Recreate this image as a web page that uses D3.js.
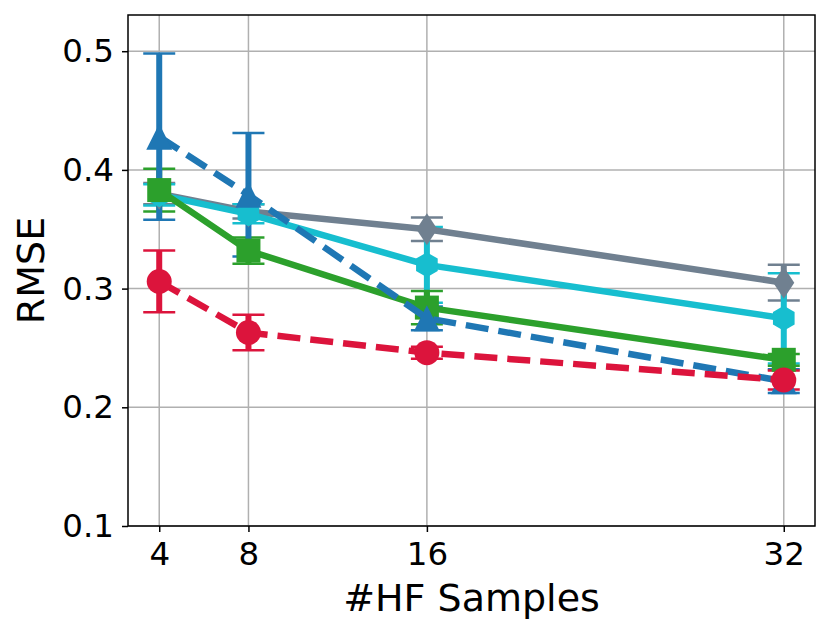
<!DOCTYPE html>
<html>
<head>
<meta charset="utf-8">
<script src="https://cdn.jsdelivr.net/npm/d3@7"></script>
<style>
  body { margin: 0; background: #fff; }
  text { font-family: "DejaVu Sans", sans-serif; fill: #000; }
</style>
</head>
<body>
<svg id="chart" width="830" height="634"></svg>
<script>
// data
const hfSamples = [4, 8, 16, 32];
const yTicks = [0.1, 0.2, 0.3, 0.4, 0.5];

const grayMean  = [0.380, 0.365, 0.350, 0.305];
const grayErr   = [0.009, 0.006, 0.010, 0.015];
const cyanMean  = [0.379, 0.363, 0.320, 0.275];
const cyanErr   = [0.009, 0.008, 0.032, 0.038];
const greenMean = [0.383, 0.332, 0.284, 0.240];
const greenErr  = [0.018, 0.011, 0.014, 0.005];
const blueMean  = [0.428, 0.379, 0.275, 0.222];
const blueErr   = [0.070, 0.052, 0.010, 0.010];
const redMean   = [0.306, 0.263, 0.246, 0.223];
const redErr    = [0.026, 0.015, 0.005, 0.008];

// drawing order matches the reference (later ones on top)
const series = [
  { mean: grayMean,  err: grayErr,  color: "#708090", marker: "thinDiamond", dashed: false },
  { mean: cyanMean,  err: cyanErr,  color: "#17becf", marker: "hexagon",     dashed: false },
  { mean: greenMean, err: greenErr, color: "#2ca02c", marker: "square",      dashed: false },
  { mean: blueMean,  err: blueErr,  color: "#1f77b4", marker: "triangle",    dashed: true },
  { mean: redMean,   err: redErr,   color: "#dc143c", marker: "circle",      dashed: true }
];

const plotL = 128, plotT = 15, plotR = 815, plotB = 526;

const x = d3.scaleLinear().domain([2.6, 33.4]).range([plotL, plotR]);
const y = d3.scaleLinear().domain([0.1, 0.5305]).range([plotB, plotT]);

const svg = d3.select("#chart");

// grid
svg.append("g").selectAll("line")
  .data(hfSamples).join("line")
  .attr("x1", d => x(d)).attr("x2", d => x(d))
  .attr("y1", plotT).attr("y2", plotB)
  .attr("stroke", "#b0b0b0").attr("stroke-width", 1.5);
svg.append("g").selectAll("line")
  .data(yTicks).join("line")
  .attr("x1", plotL).attr("x2", plotR)
  .attr("y1", d => y(d)).attr("y2", d => y(d))
  .attr("stroke", "#b0b0b0").attr("stroke-width", 1.5);

// marker shapes
function markerPath(kind) {
  const p = d3.path();
  if (kind === "circle") {
    p.arc(0, 0, 12.5, 0, 2 * Math.PI);
  } else if (kind === "square") {
    p.rect(-12, -12, 24, 24);
  } else if (kind === "triangle") {
    p.moveTo(0, -13); p.lineTo(13, 13); p.lineTo(-13, 13);
  } else if (kind === "hexagon") {
    for (let k = 0; k < 6; k++) {
      const a = -Math.PI / 2 + k * Math.PI / 3;
      const px = 12.5 * Math.cos(a), py = 12.5 * Math.sin(a);
      if (k === 0) p.moveTo(px, py); else p.lineTo(px, py);
    }
  } else if (kind === "thinDiamond") {
    p.moveTo(0, -16); p.lineTo(10.5, 0); p.lineTo(0, 16); p.lineTo(-10.5, 0);
  }
  p.closePath();
  return p.toString();
}

// error bars (all below the data lines, like matplotlib)
const errG = svg.append("g");
series.forEach(s => {
  const pts = hfSamples.map((h, i) => ({ h: h, m: s.mean[i], e: s.err[i] }));
  const g = errG.append("g").attr("stroke", s.color);
  g.selectAll(".bar").data(pts).join("line").attr("class", "bar")
    .attr("x1", d => x(d.h)).attr("x2", d => x(d.h))
    .attr("y1", d => y(d.m - d.e)).attr("y2", d => y(d.m + d.e))
    .attr("stroke-width", 6);
  g.selectAll(".capTop").data(pts).join("line").attr("class", "capTop")
    .attr("x1", d => x(d.h) - 16).attr("x2", d => x(d.h) + 16)
    .attr("y1", d => y(d.m + d.e)).attr("y2", d => y(d.m + d.e))
    .attr("stroke-width", 2.5);
  g.selectAll(".capBot").data(pts).join("line").attr("class", "capBot")
    .attr("x1", d => x(d.h) - 16).attr("x2", d => x(d.h) + 16)
    .attr("y1", d => y(d.m - d.e)).attr("y2", d => y(d.m - d.e))
    .attr("stroke-width", 2.5);
});

// lines + markers
const line = d3.line().x(d => x(d.h)).y(d => y(d.m));
series.forEach(s => {
  const pts = hfSamples.map((h, i) => ({ h: h, m: s.mean[i] }));
  const g = svg.append("g");
  g.append("path")
    .datum(pts)
    .attr("d", line)
    .attr("fill", "none")
    .attr("stroke", s.color)
    .attr("stroke-width", 6.5)
    .attr("stroke-linejoin", "round")
    .attr("stroke-dasharray", s.dashed ? "23,10" : null);
  g.selectAll(".mk").data(pts).join("path").attr("class", "mk")
    .attr("d", markerPath(s.marker))
    .attr("transform", d => `translate(${x(d.h)},${y(d.m)})`)
    .attr("fill", s.color);
});

// axes
const xAxis = d3.axisBottom(x).tickValues(hfSamples).tickSize(6).tickPadding(10).tickFormat(d3.format("d"));
const yAxis = d3.axisLeft(y).tickValues(yTicks).tickSize(6).tickPadding(8).tickFormat(d3.format(".1f"));

const gx = svg.append("g").attr("transform", `translate(0,${plotB})`).call(xAxis);
const gy = svg.append("g").attr("transform", `translate(${plotL},0)`).call(yAxis);
[gx, gy].forEach(g => {
  g.select(".domain").remove();
  g.selectAll(".tick line").attr("stroke", "#000").attr("stroke-width", 1.5);
  g.selectAll(".tick text").style("font-size", "32.5px").attr("fill", "#000")
    .style("font-family", "'DejaVu Sans', sans-serif");
});

// frame
svg.append("rect")
  .attr("x", plotL).attr("y", plotT)
  .attr("width", plotR - plotL).attr("height", plotB - plotT)
  .attr("fill", "none").attr("stroke", "#000").attr("stroke-width", 1.5);

// axis labels
svg.append("text")
  .attr("x", (plotL + plotR) / 2).attr("y", 611)
  .attr("text-anchor", "middle")
  .style("font-size", "38px")
  .text("#HF Samples");
svg.append("text")
  .attr("transform", `translate(44,${(plotT + plotB) / 2}) rotate(-90)`)
  .attr("text-anchor", "middle")
  .style("font-size", "38px")
  .text("RMSE");
</script>
</body>
</html>
